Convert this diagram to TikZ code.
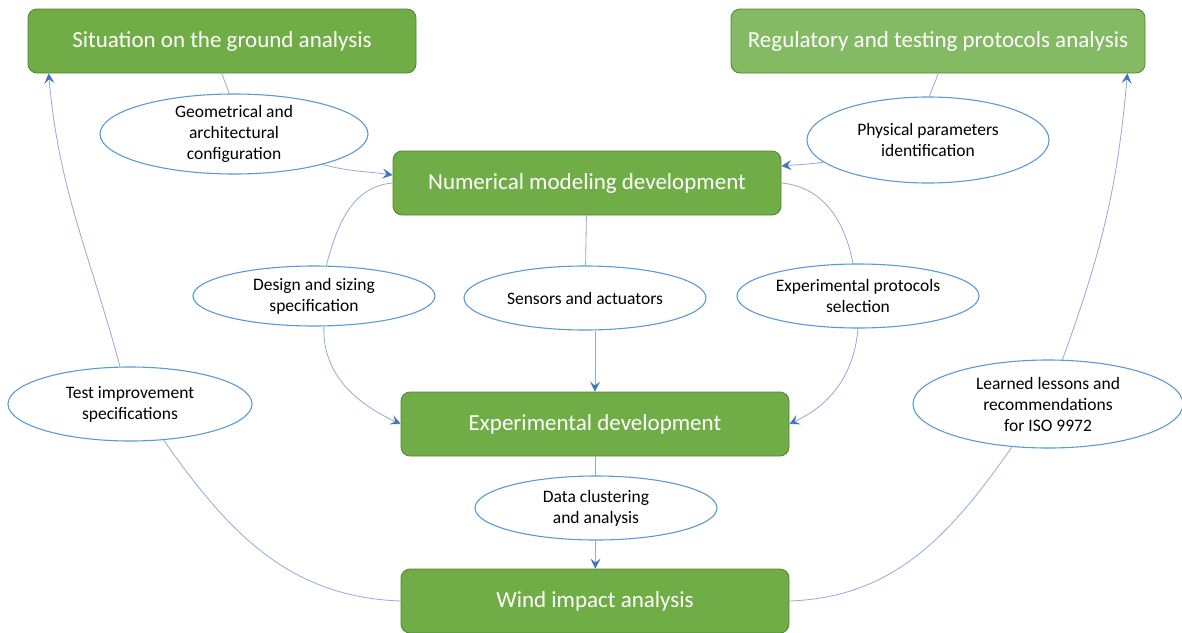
\documentclass[tikz,border=0pt]{standalone}
\usepackage{fontspec}
\setmainfont{Carlito}
\usetikzlibrary{shapes.geometric,arrows.meta}
\definecolor{boxgreen}{HTML}{70AD47}
\definecolor{boxlight}{HTML}{84BA64}
\definecolor{boxedge}{HTML}{548235}
\definecolor{ringblue}{HTML}{5B9BD5}
\definecolor{linkblue}{HTML}{8FAADC}
\definecolor{tipblue}{HTML}{4472C4}
\begin{document}
\begin{tikzpicture}[x=1pt,y=-1pt,
  taskbox/.style={rectangle,rounded corners=9pt,draw=boxedge,line width=.8pt,fill=boxgreen,text=white,
    minimum width=388pt,minimum height=64pt,font=\fontsize{23}{27}\selectfont},
  topicring/.style={ellipse,draw=ringblue,line width=1.1pt,fill=white,align=center,inner sep=0pt,
    font=\fontsize{17.5}{21}\selectfont},
  flowline/.style={draw=linkblue,line width=.8pt},
  flowarrow/.style={flowline,-{Stealth[length=10pt,width=10pt,inset=4pt,color=tipblue]}}]
  \useasboundingbox (0,0) rectangle (1182,632);
  \node[taskbox] (sit) at (222,41) {Situation on the ground analysis};
  \node[taskbox,fill=boxlight,minimum width=414pt] (reg) at (938,41) {Regulatory and testing protocols analysis};
  \node[taskbox] (num) at (587,183) {Numerical modeling development};
  \node[taskbox] (exp) at (595,424) {Experimental development};
  \node[taskbox] (wind) at (595,601) {Wind impact analysis};
  \node[topicring,minimum width=268pt,minimum height=80pt,inner ysep=-3pt] (geo) at (234,134) {Geometrical and\\architectural\\configuration};
  \node[topicring,minimum width=242pt,minimum height=86pt] (phys) at (928,140) {Physical parameters\\identification};
  \node[topicring,minimum width=242pt,minimum height=60pt] (des) at (314,296) {Design and sizing\\specification};
  \node[topicring,minimum width=242pt,minimum height=64pt] (sens) at (585,298) {Sensors and actuators};
  \node[topicring,minimum width=242pt,minimum height=64pt] (pro) at (858,296) {Experimental protocols\\selection};
  \node[topicring,minimum width=244pt,minimum height=74pt] (test) at (130,404) {Test improvement\\specifications};
  \node[topicring,minimum width=270pt,minimum height=88pt] (lrn) at (1048,404) {Learned lessons and\\recommendations\\for ISO 9972};
  \node[topicring,minimum width=242pt,minimum height=64pt] (data) at (596,508) {Data clustering\\and analysis};
  \draw[flowline] (sit.south) to[out=-75,in=105] (geo.97);
  \draw[flowarrow] (geo.-19) to[out=-15,in=172] ([yshift=8pt]num.west);
  \draw[flowline] (reg.south) to[out=-105,in=75] (phys.88);
  \draw[flowarrow] (phys.-168) to[out=-172,in=5] ([yshift=17pt]num.east);
  \draw[flowline] (num.west) to[out=185,in=75] (des.68);
  \draw[flowarrow] (des.-72) to[out=-92,in=155] (exp.west);
  \draw[flowline] (num) -- (sens);
  \draw[flowarrow] (sens.south -| exp.north) -- (exp.north);
  \draw[flowline] (num.east) to[out=-5,in=100] (pro.99);
  \draw[flowarrow] (pro.-90) to[out=-95,in=25] (exp.east);
  \draw[flowline] (exp) -- (data);
  \draw[flowarrow] (data) -- (wind);
  \draw[flowline] (wind.west) to[out=178,in=-55] (test.-47);
  \draw[flowarrow] (test.105) to[out=105,in=-85] ([xshift=21pt]sit.south west);
  \draw[flowline] (wind.east) to[out=2,in=-125] (lrn.-130);
  \draw[flowarrow] (lrn.72) to[out=70,in=-95] ([xshift=-18pt]reg.south east);
\end{tikzpicture}
\end{document}
